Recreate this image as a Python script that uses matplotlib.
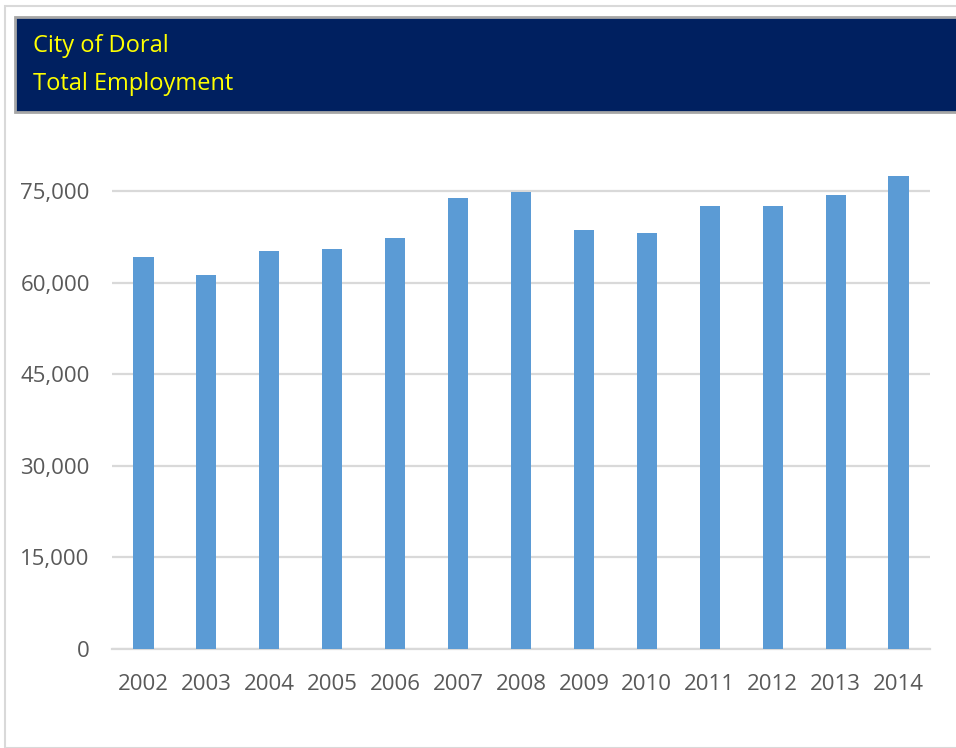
import numpy as np
import matplotlib
matplotlib.use('Agg')
import matplotlib.pyplot as plt
from matplotlib.patches import Rectangle

# Data
years = ['2002', '2003', '2004', '2005', '2006', '2007', '2008',
         '2009', '2010', '2011', '2012', '2013', '2014']
employment = [64200, 61200, 65200, 65500, 67300, 73850, 74800,
              68600, 68200, 72500, 72500, 74300, 77450]
yticks = [0, 15000, 30000, 45000, 60000, 75000]

title_lines = ['City of Doral', 'Total Employment']

plt.rcParams['font.family'] = ['Open Sans', 'DejaVu Sans']

dpi = 100
W, H = 956, 748
fig = plt.figure(figsize=(W/dpi, H/dpi), dpi=dpi)

# outer light frame
fig.patches.append(Rectangle((5/W, 0), 1.2, 1 - 6/H, transform=fig.transFigure,
                             facecolor='none', edgecolor='#d9d9d9', lw=1.5, zorder=-10))

# title banner
fig.patches.append(Rectangle((15/W, 1 - 112/H), 1.0, 95/H, transform=fig.transFigure,
                             facecolor='#002060', edgecolor='#a6a6a6', lw=2, zorder=-5))
fig.text(33/W, 1 - 52/H, title_lines[0], color='#ffff00', fontsize=17, va='baseline')
fig.text(33/W, 1 - 90/H, title_lines[1], color='#ffff00', fontsize=17, va='baseline')

# plot area: 0 at y=649px, 75,000 at y=191px
px_per = (649 - 191) / 75000
ymax = 80000
top = 649 - ymax * px_per
ax = fig.add_axes([112/W, 1 - 649/H, (930 - 112)/W, (649 - top)/H])

x = np.arange(len(years))
ax.bar(x, employment, width=0.32, color='#5b9bd5', zorder=3)

ax.set_xlim(-0.5, len(years) - 0.5)
ax.set_ylim(0, ymax)
ax.set_yticks(yticks)
ax.set_yticklabels([f'{v:,}' for v in yticks])
ax.set_xticks(x)
ax.set_xticklabels(years)
ax.grid(axis='y', color='#d9d9d9', lw=1.6, zorder=0)
for s in ['top', 'right', 'left']:
    ax.spines[s].set_visible(False)
ax.spines['bottom'].set_color('#d9d9d9')
ax.spines['bottom'].set_linewidth(1.6)
ax.tick_params(axis='y', length=0, pad=16, labelsize=16, labelcolor='#595959')
ax.tick_params(axis='x', length=0, pad=18, labelsize=16, labelcolor='#595959')
ax.set_facecolor('none')

plt.savefig('out.png', dpi=dpi)
